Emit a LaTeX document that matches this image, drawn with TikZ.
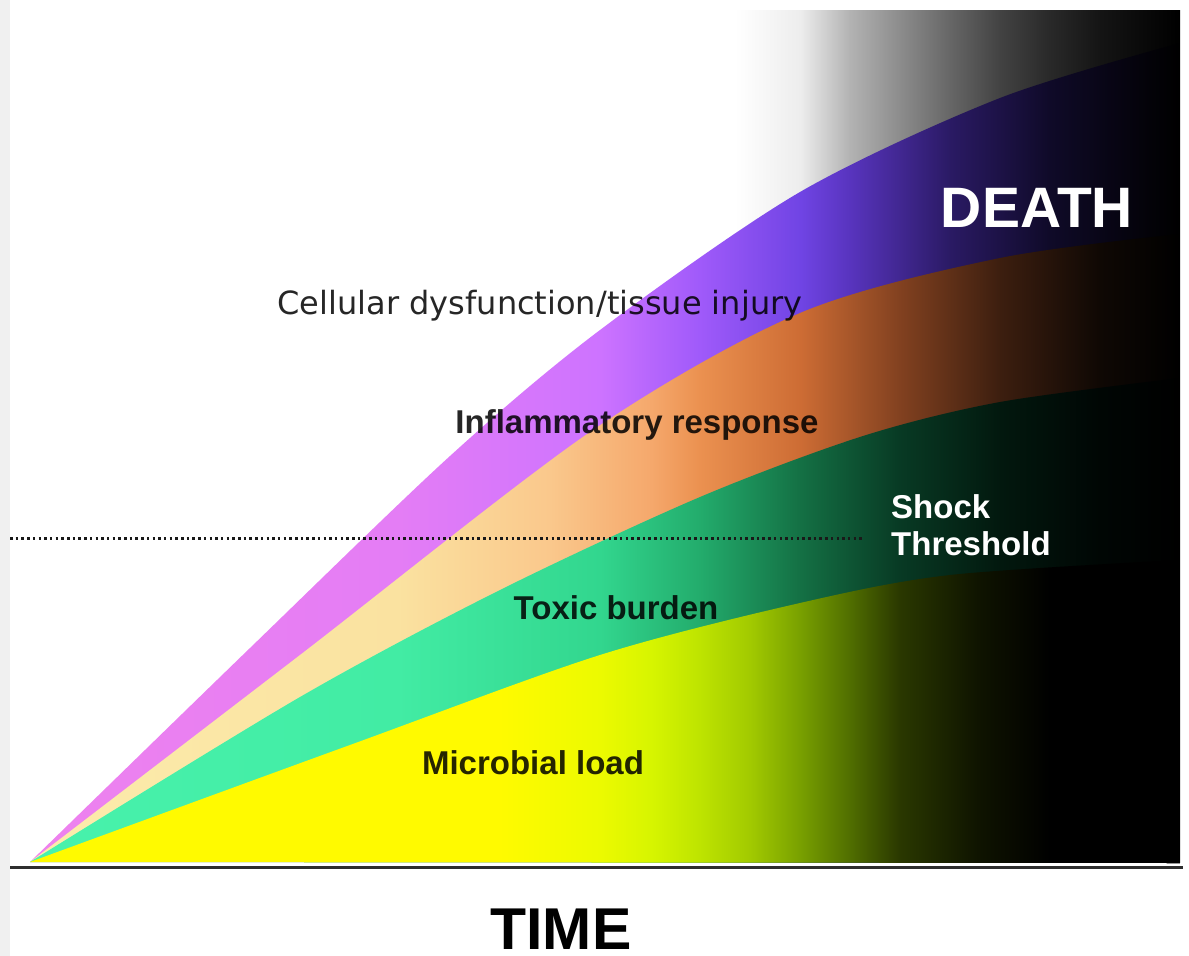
\documentclass[tikz,border=0pt]{standalone}
\usepackage{fontspec}
\setmainfont{Liberation Sans}
\newfontfamily\widefont{DejaVu Sans}

% left to right: band colour fading into black (25bp..75bp = band width)
\pgfdeclarehorizontalshading{purpleband}{100bp}{rgb(0bp)=(0.933,0.510,0.933); rgb(25bp)=(0.933,0.510,0.933);
  rgb(41bp)=(0.894,0.490,0.961); rgb(49.8bp)=(0.804,0.451,1); rgb(54.1bp)=(0.627,0.353,0.980);
  rgb(58.5bp)=(0.439,0.267,0.894); rgb(60.65bp)=(0.345,0.204,0.745); rgb(65bp)=(0.165,0.102,0.392);
  rgb(69.35bp)=(0.059,0.039,0.157); rgb(73.7bp)=(0.012,0.008,0.031); rgb(75bp)=(0,0,0); rgb(100bp)=(0,0,0)}
\pgfdeclarehorizontalshading{orangeband}{100bp}{rgb(0bp)=(0.988,0.925,0.675); rgb(25bp)=(0.988,0.925,0.675);
  rgb(41bp)=(0.980,0.886,0.627); rgb(47.6bp)=(0.980,0.784,0.549); rgb(52bp)=(0.961,0.659,0.424);
  rgb(54.1bp)=(0.922,0.569,0.314); rgb(58.5bp)=(0.804,0.424,0.204); rgb(62.8bp)=(0.510,0.255,0.125);
  rgb(67.2bp)=(0.235,0.118,0.059); rgb(71.5bp)=(0.059,0.031,0.016); rgb(75bp)=(0,0,0); rgb(100bp)=(0,0,0)}
\pgfdeclarehorizontalshading{greenband}{100bp}{rgb(0bp)=(0.282,0.949,0.675); rgb(25bp)=(0.282,0.949,0.675);
  rgb(41bp)=(0.259,0.925,0.643); rgb(49.8bp)=(0.196,0.839,0.557); rgb(54.1bp)=(0.137,0.675,0.424);
  rgb(58.5bp)=(0.078,0.439,0.267); rgb(62.8bp)=(0.031,0.227,0.141); rgb(67.2bp)=(0.008,0.094,0.055);
  rgb(71.5bp)=(0,0.024,0.016); rgb(75bp)=(0,0,0); rgb(100bp)=(0,0,0)}
\pgfdeclarehorizontalshading{yellowband}{100bp}{rgb(0bp)=(1,0.98,0); rgb(25bp)=(1,0.98,0);
  rgb(45.4bp)=(1,0.98,0); rgb(49.8bp)=(0.925,0.98,0); rgb(52bp)=(0.843,0.961,0);
  rgb(54.1bp)=(0.745,0.894,0); rgb(56.3bp)=(0.635,0.792,0); rgb(58.5bp)=(0.471,0.627,0);
  rgb(60.65bp)=(0.314,0.431,0); rgb(62.8bp)=(0.165,0.220,0); rgb(66.2bp)=(0.059,0.078,0);
  rgb(69.35bp)=(0,0,0); rgb(100bp)=(0,0,0)}
\pgfdeclarehorizontalshading{deathsky}{100bp}{gray(0bp)=(1); gray(25bp)=(1); gray(32.3bp)=(0.93);
  gray(37.9bp)=(0.70); gray(43.5bp)=(0.55); gray(49.2bp)=(0.40); gray(54.8bp)=(0.26);
  gray(60.4bp)=(0.16); gray(66bp)=(0.08); gray(71.6bp)=(0.03); gray(75bp)=(0); gray(100bp)=(0)}

\begin{document}
\begin{tikzpicture}[x=1pt,y=-1pt,
  bandtext/.style={inner sep=0pt, anchor=base, text=black, text opacity=0.85, font=\bfseries\fontsize{33}{38}\selectfont},
  whitetext/.style={inner sep=0pt, anchor=base, text=white, font=\bfseries\fontsize{33}{38}\selectfont},
  timeaxis/.style={line width=3pt, color=black!82},
  threshold/.style={line width=3pt, color=black!90, dash pattern=on 2.5pt off 3.2pt}]
\useasboundingbox (0,0) rectangle (1189,956);
\fill[black!6] (0,0) rectangle (10,956);

\coordinate (O) at (30,862);
\coordinate (tL) at (10,867);
\coordinate (tR) at (1183,867);
\coordinate (sL) at (10,538);
\coordinate (sR) at (862,538);

% grey to black behind the bands
\shade[shading=deathsky] (735,10) rectangle (1180,862);

% bands, the top one first
\shade[shading=purpleband] plot[smooth] coordinates {(O) (250,648) (450,456) (600,330) (800,192) (1000,98) (1180,43)} -- (1180,863) -- cycle;
\shade[shading=orangeband] plot[smooth] coordinates {(O) (300,655) (590,432) (800,313) (1000,258) (1180,234)} -- (1180,863) -- cycle;
\shade[shading=greenband] plot[smooth] coordinates {(O) (300,697) (500,590) (700,497) (863,436) (1000,402) (1180,378)} -- (1180,863) -- cycle;
\shade[shading=yellowband] plot[smooth] coordinates {(O) (350,745) (600,655) (800,603) (950,575) (1180,560)} -- (1180,863) -- cycle;

\draw[threshold] (sL) -- (sR);
\draw[timeaxis] (tL) -- (tR);

\node[bandtext, font=\widefont\fontsize{32}{38}\selectfont] (cell) at (540,314) {Cellular dysfunction/tissue injury};
\node[bandtext] (infl) at (637,433) {Inflammatory response};
\node[bandtext] (tox) at (616,619) {Toxic burden};
\node[bandtext] (micro) at (533,774) {Microbial load};

\node[whitetext, anchor=base west] (shock) at (891,518) {Shock};
\node[whitetext, anchor=base west] (thresh) at (891,555) {Threshold};
\node[whitetext, font=\bfseries\fontsize{57}{60}\selectfont] (death) at (1037,227) {DEATH};

\node[bandtext, text opacity=1, font=\bfseries\fontsize{59}{62}\selectfont] (time) at (561,949) {TIME};
\end{tikzpicture}
\end{document}
